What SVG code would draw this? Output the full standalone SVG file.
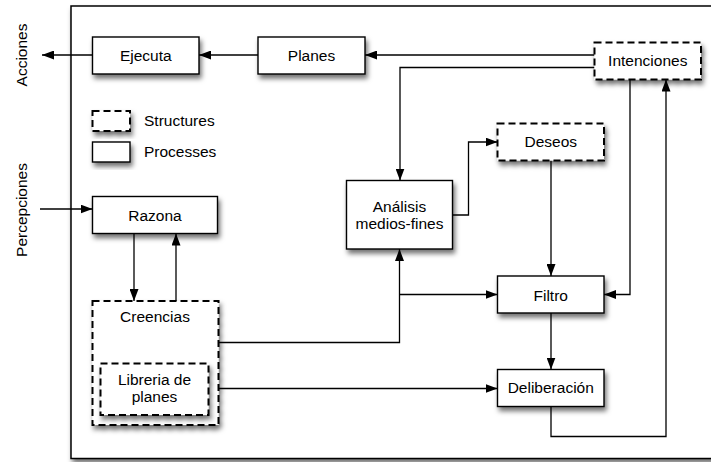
<svg xmlns="http://www.w3.org/2000/svg" width="711" height="462" viewBox="0 0 711 462">
<style>
.box{fill:#fff;stroke:#000;stroke-width:1.4;filter:url(#sh)}
.str{fill:#fff;stroke:#000;stroke-width:2;stroke-dasharray:7 4;filter:url(#sh)}
.t{font-family:"Liberation Sans",Arial,sans-serif;font-size:15.5px;fill:#000;text-anchor:middle}
.tl{font-family:"Liberation Sans",Arial,sans-serif;font-size:15.5px;fill:#000}
.c{fill:none;stroke:#000;stroke-width:1.3;marker-end:url(#ah)}
</style>
<defs>
<filter id="sh" x="-20%" y="-20%" width="150%" height="160%">
<feDropShadow dx="2" dy="4" stdDeviation="2.5" flood-color="#000" flood-opacity="0.55"/>
</filter>
<marker id="ah" markerUnits="userSpaceOnUse" markerWidth="12" markerHeight="9" refX="12" refY="4.5" orient="auto">
<path d="M0,0 L12,4.5 L0,9 z" fill="#000"/>
</marker>
</defs>
<rect width="711" height="462" fill="#fff"/>
<rect id="frame" x="71" y="6" width="660" height="452.5" fill="#fff" stroke="#000" stroke-width="1.5" filter="url(#sh)"/>
<text class="t" transform="translate(26.5,55) rotate(-90)">Acciones</text>
<text class="t" transform="translate(26.5,210) rotate(-90)">Percepciones</text>
<g id="legend">
<rect class="str" x="92.5" y="111" width="37.5" height="20"/>
<text class="tl" x="144" y="126">Structures</text>
<rect class="box" x="92.5" y="142" width="37.5" height="20"/>
<text class="tl" x="144" y="157">Processes</text>
</g>
<g id="connectors">
<path class="c" d="M92.5,55 H42"/>
<path class="c" d="M258,55 H199"/>
<path class="c" d="M594.5,55 H365"/>
<path class="c" d="M594.5,67.5 H400 V180.5"/>
<path class="c" d="M452.5,215 H468.5 V142 H497.5"/>
<path class="c" d="M551,160.5 V276"/>
<path class="c" d="M630,79.5 V294.5 H604"/>
<path class="c" d="M551,313 V369.5"/>
<path class="c" d="M551,406.5 V436.5 H666 V79.5"/>
<path class="c" d="M218.5,342.5 H399.5 V249"/>
<path class="c" d="M399.5,294.5 H497.5"/>
<path class="c" d="M208.5,388.5 H497.5"/>
<path class="c" d="M40,209 H92.5"/>
<path class="c" d="M134,233.5 V301"/>
<path class="c" d="M176,301 V233.5"/>
</g>
<g id="ejecuta"><rect class="box" x="92.5" y="37" width="106.5" height="37"/><text class="t" x="145.75" y="60.5">Ejecuta</text></g>
<g id="planes"><rect class="box" x="258" y="37" width="107" height="37"/><text class="t" x="311.5" y="60.5">Planes</text></g>
<g id="intenciones"><rect class="str" x="594.5" y="42.5" width="106.5" height="37"/><text class="t" x="647.75" y="66">Intenciones</text></g>
<g id="deseos"><rect class="str" x="497.5" y="123.5" width="106.5" height="37"/><text class="t" x="550.75" y="147">Deseos</text></g>
<g id="analisis"><rect class="box" x="346.5" y="180.5" width="106" height="68.5"/><text class="t" x="399.5" y="211.5">Análisis</text><text class="t" x="399.5" y="228.5">medios-fines</text></g>
<g id="razona"><rect class="box" x="92.5" y="196.5" width="125" height="37"/><text class="t" x="155" y="220.5">Razona</text></g>
<g id="filtro"><rect class="box" x="497.5" y="276" width="106.5" height="37"/><text class="t" x="550.75" y="300.5">Filtro</text></g>
<g id="deliberacion"><rect class="box" x="497.5" y="369.5" width="106.5" height="37"/><text class="t" x="550.75" y="393">Deliberación</text></g>
<g id="creencias"><rect class="str" x="92.5" y="301" width="126" height="124"/><text class="t" x="155" y="322">Creencias</text></g>
<g id="libreria"><rect class="str" x="100.5" y="363.5" width="108" height="51.5"/><text class="t" x="154.5" y="385">Libreria de</text><text class="t" x="154.5" y="402">planes</text></g>
</svg>
